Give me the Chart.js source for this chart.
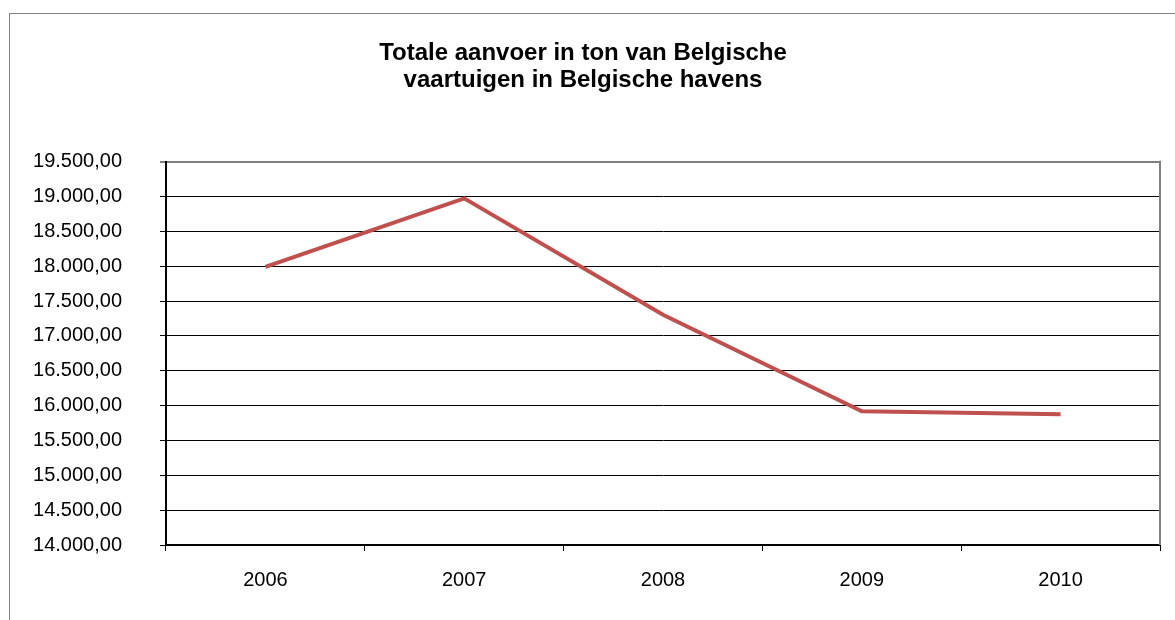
<!DOCTYPE html>
<html lang="nl">
<head>
<meta charset="utf-8">
<title>Totale aanvoer in ton van Belgische vaartuigen in Belgische havens</title>
<script src="https://cdn.jsdelivr.net/npm/chart.js@4.4.1/dist/chart.umd.min.js"></script>
<style>
  html, body { margin: 0; padding: 0; background: #fff; overflow: hidden; }
  #wrap { position: relative; width: 1175px; height: 620px; }
  /* grijze kader rond het hele diagram (loopt rechts/onder buiten beeld) */
  #frame {
    position: absolute; left: 9px; top: 13px; width: 1200px; height: 700px;
    border: 1px solid #808080; box-sizing: border-box;
  }
  canvas { position: absolute; left: 0; top: 0; }
</style>
</head>
<body>
<div id="wrap">
  <div id="frame"></div>
  <canvas id="chart" width="1175" height="620"></canvas>
</div>
<script>
  // ── Gegevens ─────────────────────────────────────────────
  const YEARS = ['2006', '2007', '2008', '2009', '2010'];
  const TONNAGE = [17990, 18975, 17305, 15920, 15875];
  const Y_MIN = 14000;
  const Y_MAX = 19500;
  const Y_STEP = 500;
  const TITLE_LINES = ['Totale aanvoer in ton van Belgische', 'vaartuigen in Belgische havens'];

  const FONT = "'Liberation Sans', Arial, sans-serif";
  const LINE_COLOR = '#C0504D';

  // 19500 -> "19.500,00"
  function fmtNL(v) {
    const parts = Number(v).toFixed(2).split('.');
    const int = parts[0].replace(/\B(?=(\d{3})+(?!\d))/g, '.');
    return int + ',' + parts[1];
  }

  // grijze rechterrand van het tekengebied
  const rightEdge = {
    id: 'rightEdge',
    afterDatasetsDraw(chart) {
      const a = chart.chartArea;
      const c = chart.ctx;
      c.save();
      c.strokeStyle = '#808080';
      c.lineWidth = 2;
      c.beginPath();
      c.moveTo(a.right, a.top - 1);
      c.lineTo(a.right, a.bottom);
      c.stroke();
      c.restore();
    }
  };

  new Chart(document.getElementById('chart'), {
    type: 'line',
    data: {
      labels: YEARS,
      datasets: [{
        label: 'Aanvoer (ton)',
        data: TONNAGE,
        borderColor: LINE_COLOR,
        backgroundColor: LINE_COLOR,
        borderWidth: 4,
        pointRadius: 0,
        tension: 0,
        fill: false
      }]
    },
    options: {
      responsive: false,
      devicePixelRatio: 1,
      animation: false,
      layout: { padding: { left: 6, right: 15, top: 0, bottom: 0 } },
      plugins: {
        legend: { display: false },
        tooltip: { enabled: false },
        title: {
          display: true,
          text: TITLE_LINES,
          color: '#000',
          font: { family: FONT, size: 24, weight: 'bold', lineHeight: 1.12 },
          padding: { top: 40, bottom: 68 }
        }
      },
      scales: {
        x: {
          type: 'category',
          offset: true,
          grid: {
            offset: true,
            drawOnChartArea: false,
            drawTicks: true,
            tickLength: 6,
            color: '#000',
            lineWidth: 1
          },
          border: { color: '#000', width: 2 },
          ticks: {
            color: '#000',
            font: { family: FONT, size: 20 },
            padding: 17,
            maxRotation: 0
          },
          afterFit(scale) { scale.height = 75; }
        },
        y: {
          min: Y_MIN,
          max: Y_MAX,
          grid: {
            color: (ctx) => (ctx.tick && ctx.tick.value === Y_MAX ? '#808080' : '#000'),
            lineWidth: (ctx) => (ctx.tick && ctx.tick.value === Y_MAX ? 2 : 1),
            drawTicks: true,
            tickLength: 6
          },
          border: { color: '#000', width: 2 },
          ticks: {
            stepSize: Y_STEP,
            color: '#000',
            font: { family: FONT, size: 20 },
            padding: 38,
            callback: (v) => fmtNL(v)
          },
          afterFit(scale) { scale.width = 160; }
        }
      }
    },
    plugins: [rightEdge]
  });
</script>
</body>
</html>
